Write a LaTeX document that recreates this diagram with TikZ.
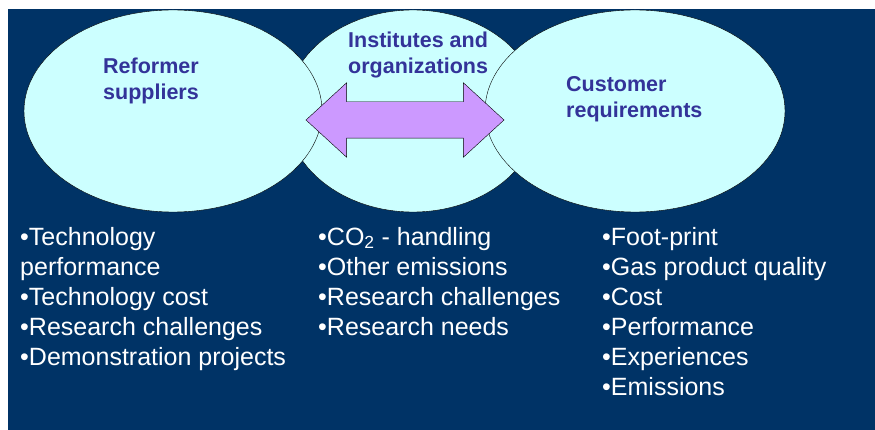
\documentclass[tikz,border=0pt]{standalone}
\usepackage{fontspec}
\setmainfont{Liberation Sans}
\usetikzlibrary{shapes.geometric,shapes.arrows,positioning}

\definecolor{slide}{HTML}{003366}
\definecolor{groupfill}{HTML}{CCFFFF}
\definecolor{linkfill}{HTML}{CC99FF}
\definecolor{titleblue}{HTML}{333399}

\begin{document}
\begin{tikzpicture}[x=1pt,y=-1pt]
  \tikzstyle{group}=[ellipse,draw=black,fill=groupfill,inner sep=0pt,minimum height=202pt]
  \tikzstyle{link}=[double arrow,draw=black,fill=linkfill,inner xsep=0pt,inner ysep=18pt,
    double arrow head extend=19pt,double arrow tip angle=85,minimum height=198pt]
  \tikzstyle{title}=[text=titleblue,font=\bfseries\fontsize{21.5}{26}\selectfont,align=left,inner sep=0pt,anchor=base west]
  \tikzstyle{items}=[text=white,font=\fontsize{25}{30}\selectfont,align=left,inner sep=0pt,anchor=base west]

  \useasboundingbox (0,0) rectangle (875,430);
  \fill[slide] (8,9) rectangle (875,430);

  \node[group,minimum width=254pt] (inst) at (413,111) {};
  \node[group,minimum width=298pt] (supp) at (173,111) {};
  \node[group,minimum width=300pt] (cust) at (635,111) {};
  \node[link] (flow) at (405,120) {};

  % base anchor sits on the last line
  \node[title] (t-supp) at (103,100) {Reformer\\suppliers};
  \node[title] (t-inst) at (348,74) {Institutes and\\organizations};
  \node[title] (t-cust) at (566,118) {Customer\\requirements};

  \node[items] (l-supp) at (20,365) {•Technology\\performance\\•Technology cost\\•Research challenges\\•Demonstration projects};
  \node[items] (l-inst) at (318,335) {•CO\textsubscript{2} - handling\\•Other emissions\\•Research challenges\\•Research needs};
  \node[items] (l-cust) at (602,395) {•Foot-print\\•Gas product quality\\•Cost\\•Performance\\•Experiences\\•Emissions};

\end{tikzpicture}
\end{document}
